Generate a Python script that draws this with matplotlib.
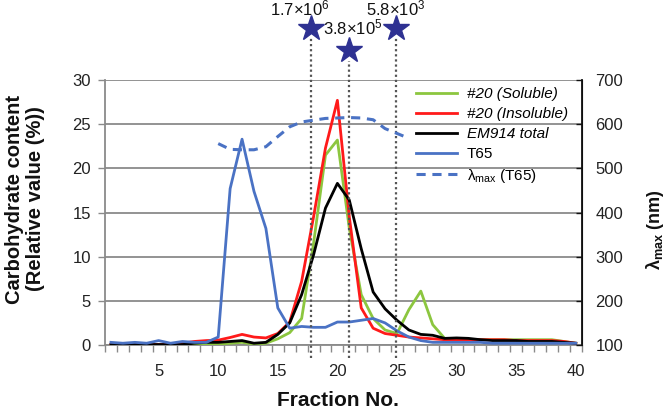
import matplotlib
matplotlib.use('Agg')
import matplotlib.pyplot as plt

plt.rcParams['font.family'] = ['Liberation Sans', 'DejaVu Sans']
plt.rcParams['mathtext.fontset'] = 'custom'
plt.rcParams['mathtext.rm'] = 'Liberation Sans'
plt.rcParams['mathtext.it'] = 'Liberation Sans:italic'
plt.rcParams['mathtext.bf'] = 'Liberation Sans:bold'

# ---------------- data ----------------
fractions = list(range(1, 41))
soluble = [0.0, 0.0, 0.0, 0.0, 0.0, 0.0, 0.0, 0.1, 0.1, 0.1,
           0.2, 0.3, 0.1, 0.2, 0.7, 1.4, 3.0, 11.5, 21.5, 23.2,
           13.2, 5.7, 3.0, 1.7, 1.3, 4.0, 6.1, 2.3, 0.75, 0.6,
           0.6, 0.6, 0.6, 0.6, 0.6, 0.6, 0.6, 0.6, 0.4, 0.2]
insoluble = [0.05, 0.05, 0.05, 0.05, 0.05, 0.05, 0.2, 0.4, 0.5, 0.55,
             0.85, 1.2, 0.9, 0.8, 1.3, 2.6, 7.2, 14.5, 22.3, 27.7,
             14.5, 4.2, 1.9, 1.3, 1.1, 0.9, 0.8, 0.7, 0.6, 0.6,
             0.6, 0.6, 0.6, 0.6, 0.5, 0.5, 0.5, 0.5, 0.4, 0.2]
em914_total = [0.05, 0.05, 0.05, 0.05, 0.05, 0.05, 0.05, 0.2, 0.3, 0.3,
               0.4, 0.5, 0.2, 0.3, 1.2, 2.5, 5.7, 10.2, 15.5, 18.3,
               16.4, 10.9, 6.0, 4.1, 2.8, 1.7, 1.2, 1.1, 0.75, 0.8,
               0.75, 0.6, 0.5, 0.5, 0.5, 0.4, 0.4, 0.4, 0.3, 0.2]
t65 = [0.3, 0.2, 0.3, 0.2, 0.5, 0.2, 0.4, 0.3, 0.3, 0.9,
       17.7, 23.3, 17.4, 13.2, 4.2, 1.9, 2.1, 2.0, 2.0, 2.6,
       2.6, 2.8, 3.0, 2.5, 1.6, 0.9, 0.5, 0.3, 0.3, 0.3,
       0.3, 0.3, 0.2, 0.2, 0.2, 0.2, 0.2, 0.2, 0.2, 0.2]
lam_fractions = list(range(10, 27))
lam_t65 = [556, 543, 542, 542, 549, 572, 594, 605, 609, 613,
           614, 615, 614, 610, 590, 579, 568]

# molecular weight markers
marker_fracs = [17.8, 21.0, 24.9]
marker_labels = [r'1.7$\times$10$^6$', r'3.8$\times$10$^5$', r'5.8$\times$10$^3$']

x_ticks = [5, 10, 15, 20, 25, 30, 35, 40]
left_ticks = [0, 5, 10, 15, 20, 25, 30]
right_ticks = [100, 200, 300, 400, 500, 600, 700]

# ---------------- figure ----------------
fig = plt.figure(figsize=(6.67, 4.15), dpi=100)
ax = fig.add_axes([105 / 667, 1 - 345 / 415, (581.7 - 105) / 667, (345 - 80) / 415])
ax2 = ax.twinx()

grid_c = '#8a8a8a'
ax.set_xlim(0.5, 40.5)
ax.set_ylim(0, 30)
ax.set_yticks(left_ticks)
ax.yaxis.grid(True, color=grid_c, lw=1.3, zorder=0)
ax.set_axisbelow(True)

ax.set_xticks(x_ticks)
ax.set_xticks([i + 0.5 for i in range(0, 41)], minor=True)
ax.tick_params(axis='x', which='major', length=0, labelsize=12, pad=14, colors='#222222')
ax.tick_params(axis='x', which='minor', length=5, width=1, color=grid_c, direction='out')
ax.tick_params(axis='y', which='major', length=5, width=1, color=grid_c, labelsize=12, pad=5,
               labelcolor='#222222')

for s in ['top']:
    ax.spines[s].set_visible(False)
    ax2.spines[s].set_visible(False)
ax.spines['left'].set_color(grid_c)
ax.spines['bottom'].set_color(grid_c)
ax.spines['left'].set_linewidth(1.3)
ax.spines['bottom'].set_linewidth(1.3)
ax2.spines['left'].set_visible(False)
ax2.spines['bottom'].set_visible(False)
ax2.spines['right'].set_color('#111111')
ax2.spines['right'].set_linewidth(1.3)

lw = 2.0
l1, = ax.plot(fractions, soluble, color='#8CC63F', lw=lw, zorder=3, label='#20 (Soluble)')
l2, = ax.plot(fractions, insoluble, color='#FF1A1A', lw=lw, zorder=4, label='#20 (Insoluble)')
l3, = ax.plot(fractions, em914_total, color='#000000', lw=lw, zorder=5, label='EM914 total')
l4, = ax.plot(fractions, t65, color='#4A72C4', lw=lw, zorder=6, label='T65')

ax2.set_ylim(100, 700)
ax2.set_yticks(right_ticks)
ax2.tick_params(axis='y', length=4, width=1, direction='in', color='#111111', labelsize=12, pad=10,
                labelcolor='#222222')
l5, = ax2.plot(lam_fractions, lam_t65, color='#4A72C4', lw=2.2, ls=(0, (3, 2.2)),
               label=r'λ$_{\mathrm{max}}$ (T65)')

# molecular weight markers (above the plot)
star_y = [35.9, 33.4, 35.9]
for xf, lab, sy in zip(marker_fracs, marker_labels, star_y):
    ax.plot([xf, xf], [-1.5, sy - 1.2], color='#555555', lw=1.6, ls=(0, (1, 1.3)),
            clip_on=False, zorder=7)
    ax.plot([xf], [sy], marker='*', ms=19, color='#2E3192', mec='#2E3192', clip_on=False, zorder=8)
lab_pos = [(16.8, 38.1), (21.3, 36.0), (24.9, 38.1)]
for (lx, ly), lab in zip(lab_pos, marker_labels):
    ax.text(lx, ly, lab, ha='center', va='center', fontsize=12, color='#111111', clip_on=False)

leg = ax.legend(handles=[l1, l2, l3, l4, l5], loc='upper left',
                bbox_to_anchor=(0.64, 0.995), frameon=False, fontsize=11,
                handlelength=2.7, handletextpad=0.6, labelspacing=0.38, borderaxespad=0)
for t in leg.get_texts()[:3]:
    t.set_style('italic')
leg.set_zorder(10)

fig.text(338 / 667, 1 - 400 / 415, 'Fraction No.', ha='center', va='center',
         fontsize=15, fontweight='bold', color='#111111')
fig.text(25 / 667, 1 - 199 / 415, 'Carbohydrate content\n(Relative value (%))', ha='center',
         va='center', rotation=90, fontsize=14.5, fontweight='bold', color='#111111',
         linespacing=1.15)
fig.text(655 / 667, 1 - 230 / 415, r'$\mathbf{λ_{max}}$ (nm)', ha='center', va='center',
         rotation=90, fontsize=13, fontweight='bold', color='#111111')

fig.savefig('out.png', dpi=100)
